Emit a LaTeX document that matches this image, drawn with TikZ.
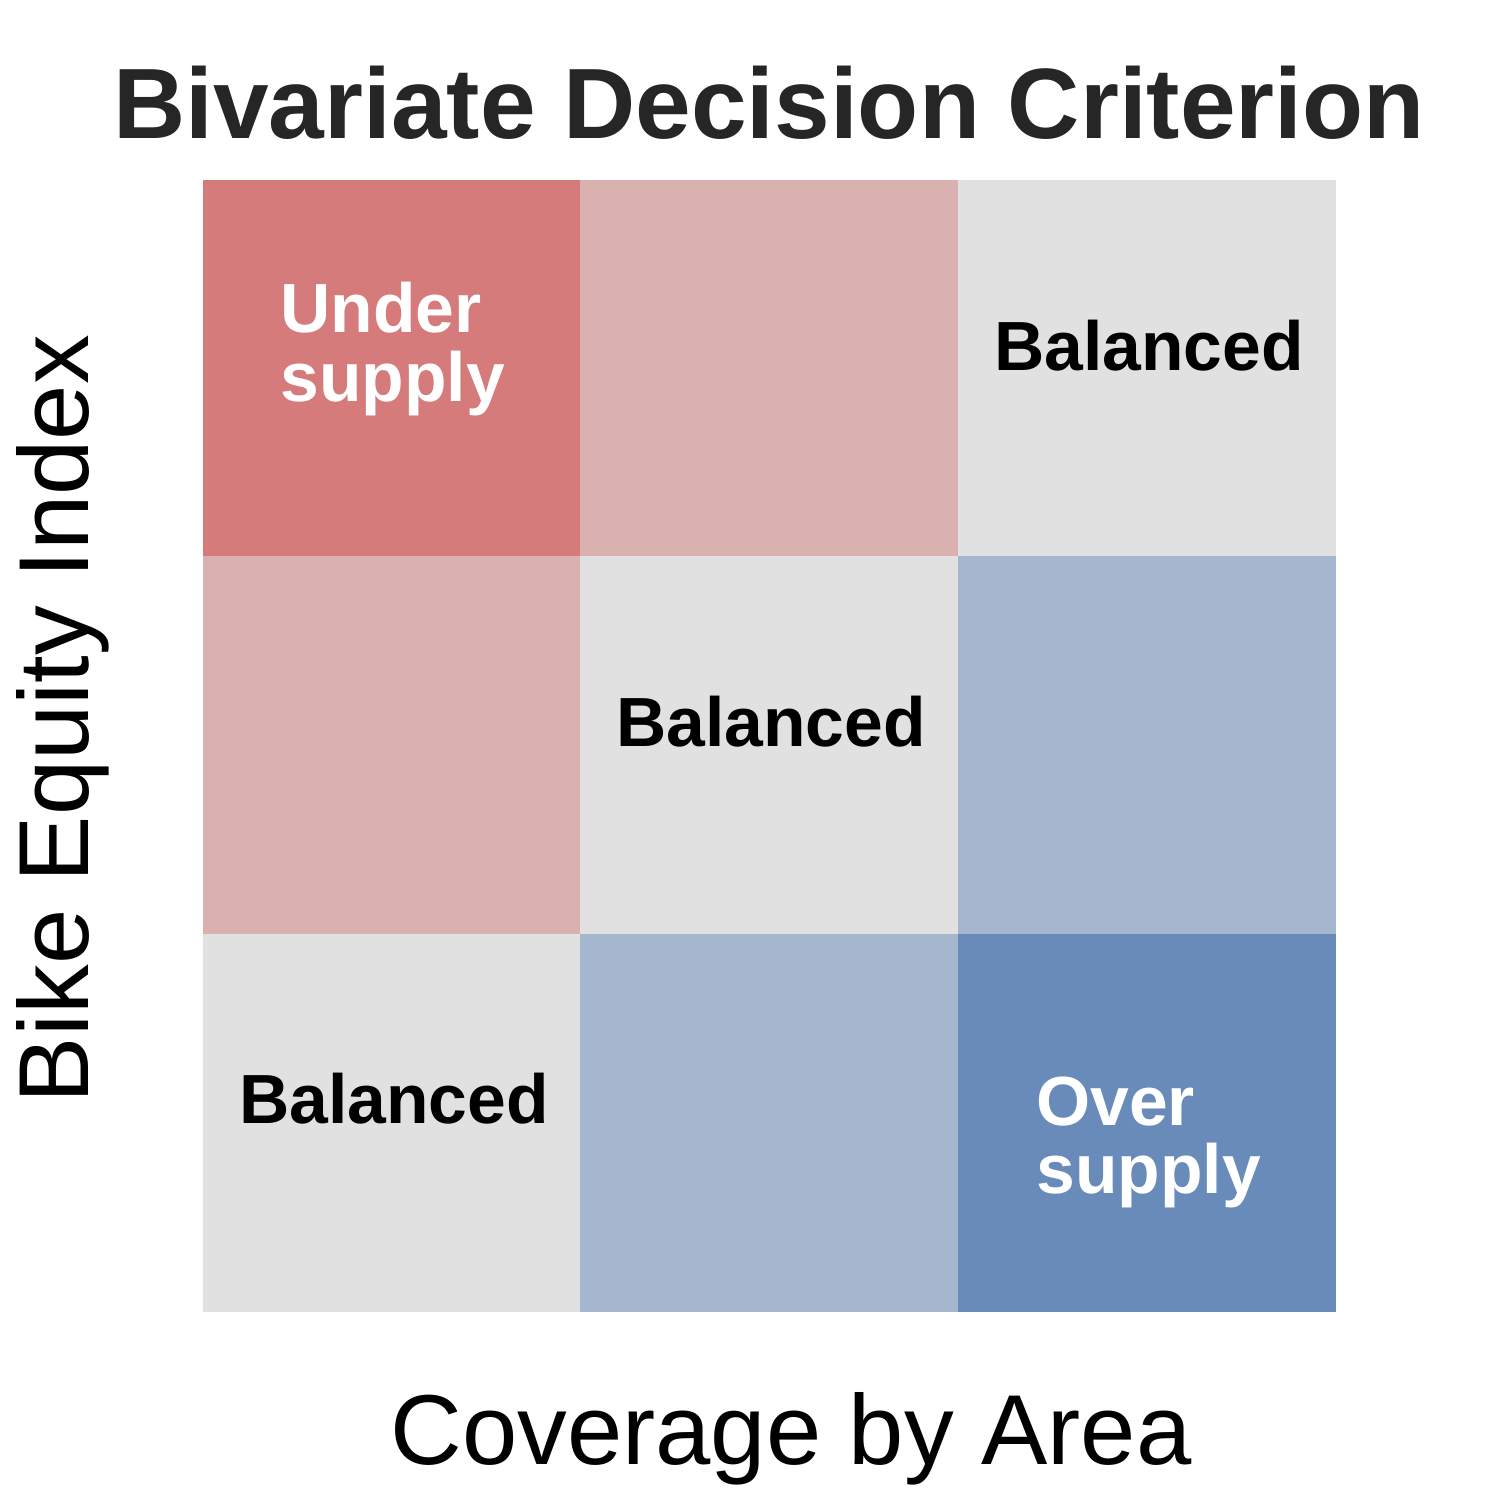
\documentclass[tikz,border=0pt]{standalone}
\usepackage{fontspec}
\setmainfont{Liberation Sans}
\definecolor{cUnder}{HTML}{D67B7B}
\definecolor{cLightRed}{HTML}{DBB0B1}
\definecolor{cGrey}{HTML}{E1E1E1}
\definecolor{cLightBlue}{HTML}{A5B6CF}
\definecolor{cOver}{HTML}{688BBA}
\definecolor{cTitle}{HTML}{262626}
\begin{document}
\begin{tikzpicture}[x=0.5pt,y=-0.5pt,
  cathead/.style={font=\fontsize{34.8}{40}\selectfont\bfseries, inner sep=0pt, anchor=base},
  whitehead/.style={font=\fontsize{34.8}{40}\selectfont\bfseries, text=white, inner sep=0pt, anchor=base west},
  axislabel/.style={font=\fontsize{49.7}{56}\selectfont, inner sep=0pt, anchor=base}]
\useasboundingbox (0,0) rectangle (1500,1500);
\fill[white] (0,0) rectangle (1500,1500);
% cells
\fill[cUnder]     (203,180) rectangle (580,556);
\fill[cLightRed]  (580,180) rectangle (958,556);
\fill[cGrey]      (958,180) rectangle (1336,556);
\fill[cLightRed]  (203,556) rectangle (580,934);
\fill[cGrey]      (580,556) rectangle (958,934);
\fill[cLightBlue] (958,556) rectangle (1336,934);
\fill[cGrey]      (203,934) rectangle (580,1312);
\fill[cLightBlue] (580,934) rectangle (958,1312);
\fill[cOver]      (958,934) rectangle (1336,1312);
% labels
\node[whitehead] (u1) at (280,332) {Under};
\node[whitehead] (u2) at (280,401) {supply};
\node[cathead] (b1) at (1149,370) {Balanced};
\node[cathead] (b2) at (771,746) {Balanced};
\node[cathead] (b3) at (394,1123) {Balanced};
\node[whitehead] (o1) at (1036,1125) {Over};
\node[whitehead] (o2) at (1036,1193) {supply};
% title and axes
\node[font=\fontsize{50}{56}\selectfont\bfseries, text=cTitle, inner sep=0pt, anchor=base] (title) at (769,138) {Bivariate Decision Criterion};
\node[axislabel] (xl) at (791,1464) {Coverage by Area};
\node[axislabel, rotate=90] (yl) at (88,719) {Bike Equity Index};
\end{tikzpicture}
\end{document}
